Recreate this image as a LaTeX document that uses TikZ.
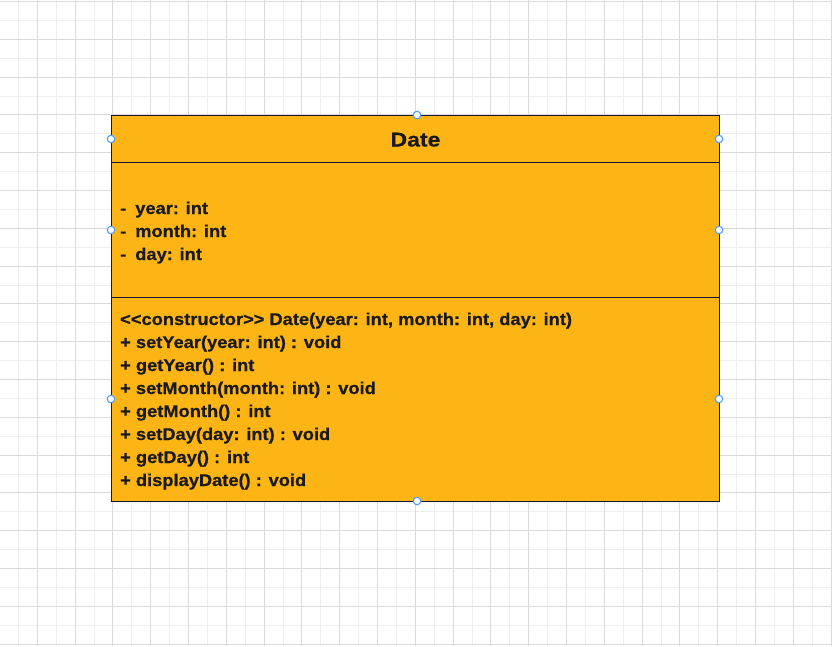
\documentclass[tikz,border=0pt]{standalone}
\usepackage{fontspec}
\newfontfamily\umlfont[FakeStretch=1.075,FakeBold=0.6]{Liberation Sans}
\newfontfamily\umltitle[FakeStretch=1.15,FakeBold=0.6]{Liberation Sans}
\definecolor{gridminor}{HTML}{EEEEEE}
\definecolor{gridmajor}{HTML}{DADADA}
\definecolor{umlfill}{HTML}{FDB515}
\definecolor{umlline}{HTML}{16163A}
\definecolor{umltext}{HTML}{1A1A1A}
\definecolor{handleblue}{HTML}{4A9EFF}
\tikzset{
  minorline/.style={draw=gridminor, line width=1pt},
  majorline/.style={draw=gridmajor, line width=1pt},
  compart/.style={draw=umlline, fill=umlfill, line width=1pt, rectangle, anchor=north west, inner sep=0pt, minimum width=608pt},
  member/.style={anchor=base west, inner sep=0pt, text=umltext, font=\umlfont\bfseries\fontsize{17pt}{23pt}\selectfont},
  titletext/.style={anchor=base, inner sep=0pt, text=umltext, font=\umltitle\bfseries\fontsize{20pt}{24pt}\selectfont},
  handle/.style={circle, draw=handleblue, fill=white, line width=1.1pt, minimum size=7.5pt, inner sep=0pt}
}
\begin{document}
\begin{tikzpicture}[x=1pt,y=-1pt]
\useasboundingbox (0,0) rectangle (832,646);
\fill[white] (0,0) rectangle (832,646);
% grid
\foreach \i in {0,...,44} {
  \draw[minorline] ({-0.5+18.9*\i},0) -- ({-0.5+18.9*\i},646);
}
\foreach \i in {0,...,34} {
  \draw[minorline] (0,{1.5+18.9*\i}) -- (832,{1.5+18.9*\i});
}
\foreach \i in {0,...,22} {
  \draw[majorline] ({-0.5+37.8*\i},0) -- ({-0.5+37.8*\i},646);
}
\foreach \i in {0,...,17} {
  \draw[majorline] (0,{1.5+37.8*\i}) -- (832,{1.5+37.8*\i});
}
% class box
\node[compart, minimum height=47pt] (hdr) at (111,115) {};
\node[compart, minimum height=135.3pt] (attrs) at (111,162) {};
\node[compart, minimum height=203.7pt] (meths) at (111,297.3) {};
\node[titletext] (title) at (415.5,146.5) {Date};
% attributes
\node[member] (a1) at (120,214) {-\hspace{9pt}year: int};
\node[member] (a2) at (120,237) {-\hspace{9pt}month: int};
\node[member] (a3) at (120,260) {-\hspace{9pt}day: int};
% methods
\node[member] (m1) at (120,325) {<{}<constructor>{}> Date(year: int, month: int, day: int)};
\node[member] (m2) at (120,348) {+ setYear(year: int) : void};
\node[member] (m3) at (120,371) {+ getYear() : int};
\node[member] (m4) at (120,394) {+ setMonth(month: int) : void};
\node[member] (m5) at (120,417) {+ getMonth() : int};
\node[member] (m6) at (120,440) {+ setDay(day: int) : void};
\node[member] (m7) at (120,463) {+ getDay() : int};
\node[member] (m8) at (120,486) {+ displayDate() : void};
% selection handles
\node[handle] (h1) at (417,115) {};
\node[handle] (h2) at (111,139) {};
\node[handle] (h3) at (719,139) {};
\node[handle] (h4) at (111,230) {};
\node[handle] (h5) at (719,230) {};
\node[handle] (h6) at (111,399) {};
\node[handle] (h7) at (719,399) {};
\node[handle] (h8) at (417,501) {};
\end{tikzpicture}
\end{document}
